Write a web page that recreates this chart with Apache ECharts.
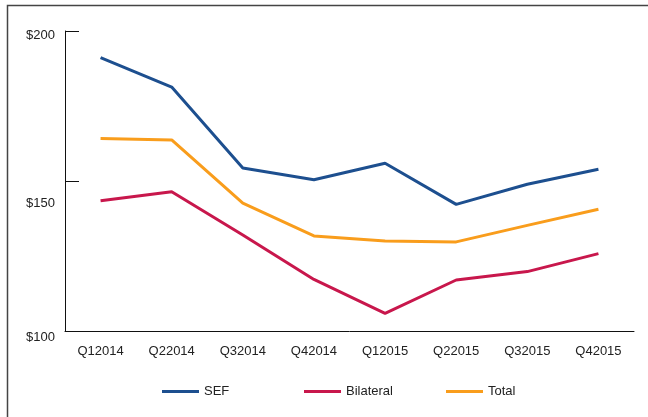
<!DOCTYPE html>
<html>
<head>
<meta charset="utf-8">
<script src="https://cdn.jsdelivr.net/npm/echarts@6/dist/echarts.min.js"></script>
<style>html,body{margin:0;padding:0;background:#fff;}#c{width:648px;height:417px;}</style>
</head>
<body>
<div id="c"></div>
<script>
const categories = ['Q12014','Q22014','Q32014','Q42014','Q12015','Q22015','Q32015','Q42015'];
const sef = [191.1, 181.3, 154.3, 150.4, 155.9, 142.2, 148.9, 153.9];
const bilateral = [143.4, 146.4, 132.0, 117.2, 105.9, 117.0, 119.8, 125.8];
const total = [164.2, 163.7, 142.6, 131.7, 130.0, 129.7, 135.2, 140.6];
const seriesNames = ['SEF', 'Bilateral', 'Total'];
const yTickLabels = {100: '$100', 150: '$150', 200: '$200'};

const colors = ['#1d4f8f', '#c8174c', '#f99d1c'];
const font = '"Liberation Sans", Arial, sans-serif';
const fs = 13;
const legendLefts = [162, 304, 446];

const chart = echarts.init(document.getElementById('c'), null, {renderer: 'canvas'});
const mk = (name, data, color) => ({
  name, type: 'line', data, showSymbol: false, symbol: 'none',
  lineStyle: {color, width: 3}, itemStyle: {color}, animation: false
});
chart.setOption({
  animation: false,
  textStyle: {fontFamily: font},
  graphic: [{
    type: 'polyline', silent: true,
    shape: {points: [[7.5, 417], [7.5, 5.5], [648, 5.5]]},
    style: {stroke: '#444', lineWidth: 1.5, fill: null}
  }],
  grid: {left: 65, right: 14, top: 31, bottom: 86, containLabel: false},
  legend: seriesNames.map((n, i) => ({
    left: legendLefts[i], top: 385, icon: 'rect', itemWidth: 37, itemHeight: 3,
    data: [n], padding: 0,
    textStyle: {fontFamily: font, fontSize: fs, color: '#222'}
  })),
  xAxis: {
    type: 'category', data: categories, boundaryGap: true,
    axisLine: {lineStyle: {color: '#111', width: 1}},
    axisTick: {inside: true, length: 7, lineStyle: {color: '#111'}},
    axisLabel: {margin: 14, fontSize: fs, color: '#222', fontFamily: font, interval: 0}
  },
  yAxis: {
    type: 'value', min: 100, max: 200, interval: 50,
    splitLine: {show: false},
    axisLine: {show: true, lineStyle: {color: '#111', width: 1}},
    axisTick: {show: true, inside: true, length: 14, lineStyle: {color: '#111'}},
    axisLabel: {
      margin: 10, fontSize: fs, color: '#222', fontFamily: font,
      formatter: v => v === 200 ? '{a|' + yTickLabels[v] + '}' : v === 150 ? '{b|' + yTickLabels[v] + '}' : '{c|' + yTickLabels[v] + '}',
      rich: {
        a: {fontSize: fs, color: '#222', fontFamily: font, padding: [9, 0, 0, 0]},
        b: {fontSize: fs, color: '#222', fontFamily: font, padding: [44, 0, 0, 0]},
        c: {fontSize: fs, color: '#222', fontFamily: font, padding: [12, 0, 0, 0]}
      }
    }
  },
  series: [mk(seriesNames[0], sef, colors[0]), mk(seriesNames[1], bilateral, colors[1]), mk(seriesNames[2], total, colors[2])]
});
</script>
</body>
</html>
